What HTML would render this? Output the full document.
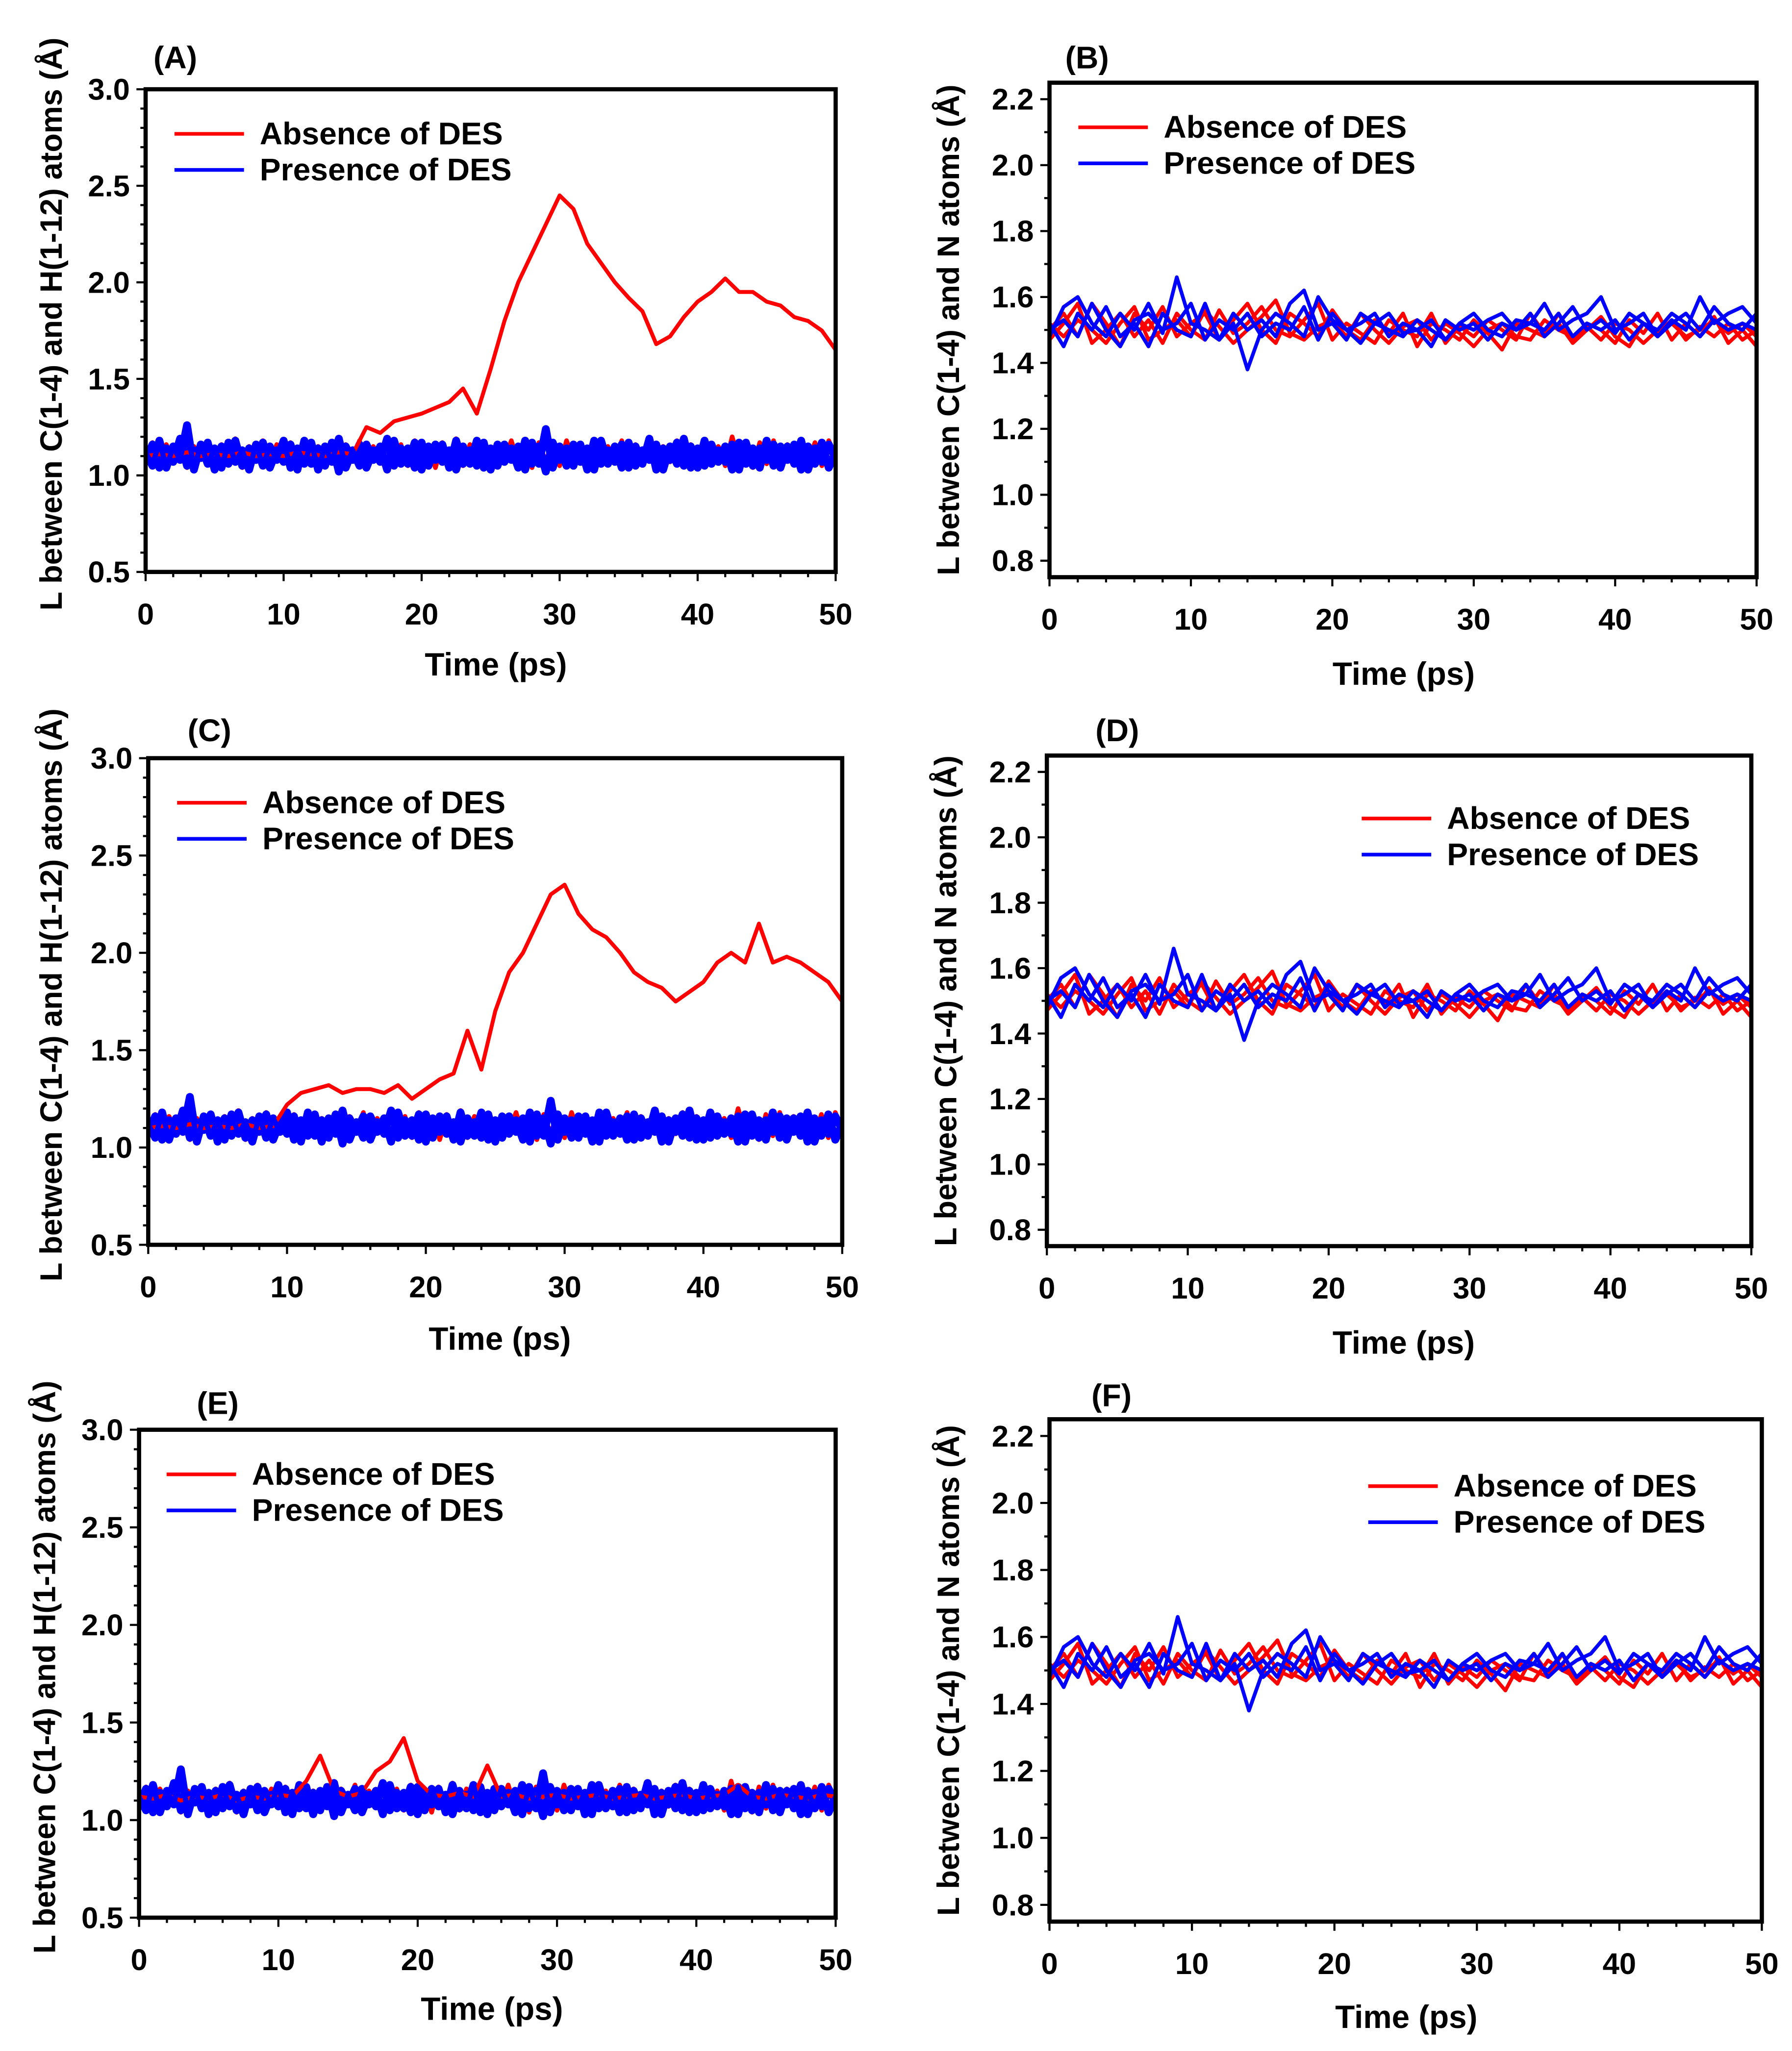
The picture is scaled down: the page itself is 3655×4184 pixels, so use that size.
<!DOCTYPE html>
<html><head><meta charset="utf-8"><style>
html,body{margin:0;padding:0;background:#fff;}
svg{display:block;}
text{font-family:"Liberation Sans",Arial,sans-serif;font-weight:bold;fill:#000;}
</style></head><body>
<svg id="fig" width="3655" height="4184" viewBox="0 0 1366 1563.6" xmlns="http://www.w3.org/2000/svg"></svg>
<script>
// ---- data (values per time step, time spans 0..50 ps evenly) ----
const timeTicks = [0,10,20,30,40,50];
const yTicksH = [0.5,1.0,1.5,2.0,2.5,3.0];
const yTicksN = [0.8,1.0,1.2,1.4,1.6,1.8,2.0,2.2];
const legendLabels = ["Absence of DES","Presence of DES"];
const panelLabels = ["(A)","(B)","(C)","(D)","(E)","(F)"];

const blueNoise = [1.12,1.05,1.18,1.04,1.15,1.08,1.26,1.03,1.16,1.06,1.14,1.04,1.17,1.07,1.13,1.03,1.16,1.05,1.15,1.08,1.18,1.04,1.14,1.06,1.17,1.03,1.15,1.07,1.19,1.04,1.13,1.05,1.16,1.08,1.15,1.03,1.18,1.06,1.14,1.04,1.17,1.05,1.16,1.07,1.13,1.03,1.15,1.06,1.18,1.04,1.14,1.05,1.16,1.08,1.15,1.03,1.17,1.06,1.24,1.04,1.15,1.05,1.16,1.07,1.14,1.03,1.18,1.06,1.15,1.04,1.17,1.05,1.13,1.08,1.16,1.03,1.15,1.06,1.19,1.04,1.14,1.05,1.16,1.07,1.15,1.03,1.17,1.06,1.14,1.04,1.18,1.05,1.15,1.08,1.16,1.03,1.15,1.06,1.17,1.04,1.12];
const blueNoise2 = [1.08,1.16,1.04,1.14,1.07,1.19,1.05,1.13,1.09,1.17,1.03,1.15,1.06,1.18,1.05,1.14,1.08,1.17,1.04,1.13,1.07,1.16,1.03,1.18,1.06,1.14,1.05,1.17,1.02,1.15,1.08,1.16,1.04,1.13,1.07,1.19,1.05,1.14,1.06,1.17,1.03,1.15,1.08,1.16,1.04,1.18,1.06,1.13,1.05,1.17,1.03,1.16,1.07,1.14,1.04,1.18,1.06,1.15,1.02,1.17,1.08,1.14,1.05,1.16,1.03,1.18,1.06,1.13,1.07,1.16,1.04,1.15,1.06,1.19,1.03,1.14,1.08,1.17,1.05,1.15,1.04,1.18,1.06,1.13,1.07,1.16,1.03,1.17,1.05,1.14,1.08,1.16,1.04,1.15,1.06,1.18,1.03,1.14,1.07,1.16,1.09];
const redNoise = [1.10,1.17,1.05,1.16,1.08,1.18,1.04,1.15,1.09,1.17,1.05,1.16,1.07,1.19,1.04,1.15,1.08,1.18,1.05,1.16,1.07,1.17,1.04,1.18,1.06,1.15,1.08,1.17,1.05,1.16,1.09,1.18,1.04,1.15,1.07,1.17,1.06,1.16,1.05,1.18,1.07,1.15,1.04,1.17,1.08,1.19,1.05,1.16,1.07,1.17,1.05,1.15,1.08,1.18,1.06,1.16,1.04,1.17,1.07,1.15,1.05,1.18,1.08,1.16,1.04,1.17,1.06,1.15,1.07,1.18,1.05,1.16,1.08,1.17,1.04,1.15,1.07,1.18,1.05,1.16,1.06,1.17,1.08,1.15,1.05,1.20,1.07,1.16,1.04,1.17,1.06,1.18,1.05,1.16,1.08,1.15,1.06,1.17,1.05,1.18,1.10];

const redA = [1.10,1.11,1.10,1.12,1.10,1.11,1.10,1.12,1.10,1.11,1.10,1.12,1.11,1.10,1.12,1.11,1.25,1.22,1.28,1.30,1.32,1.35,1.38,1.45,1.32,1.55,1.80,2.00,2.15,2.30,2.45,2.38,2.20,2.10,2.00,1.92,1.85,1.68,1.72,1.82,1.90,1.95,2.02,1.95,1.95,1.90,1.88,1.82,1.80,1.75,1.65];
const redC = [1.10,1.11,1.10,1.12,1.10,1.11,1.10,1.12,1.10,1.11,1.22,1.28,1.30,1.32,1.28,1.30,1.30,1.28,1.32,1.25,1.30,1.35,1.38,1.60,1.40,1.70,1.90,2.00,2.15,2.30,2.35,2.20,2.12,2.08,2.00,1.90,1.85,1.82,1.75,1.80,1.85,1.95,2.00,1.95,2.15,1.95,1.98,1.95,1.90,1.85,1.75];
const redE = [1.12,1.11,1.13,1.10,1.12,1.11,1.13,1.10,1.12,1.11,1.13,1.12,1.20,1.33,1.15,1.12,1.14,1.25,1.30,1.42,1.20,1.13,1.12,1.14,1.12,1.28,1.12,1.13,1.11,1.12,1.13,1.11,1.12,1.13,1.11,1.12,1.13,1.11,1.12,1.13,1.11,1.12,1.13,1.18,1.12,1.11,1.13,1.12,1.11,1.13,1.12];

const redN1 = [1.50,1.55,1.48,1.58,1.52,1.45,1.55,1.50,1.57,1.48,1.52,1.55,1.47,1.53,1.58,1.50,1.46,1.55,1.52,1.48,1.56,1.50,1.47,1.53,1.49,1.55,1.45,1.52,1.50,1.47,1.53,1.49,1.44,1.52,1.50,1.48,1.55,1.47,1.52,1.50,1.46,1.53,1.49,1.55,1.47,1.52,1.48,1.54,1.46,1.50,1.45];
const redN2 = [1.47,1.52,1.58,1.46,1.50,1.55,1.48,1.53,1.46,1.55,1.50,1.47,1.56,1.49,1.52,1.57,1.50,1.48,1.53,1.58,1.47,1.52,1.49,1.46,1.53,1.50,1.48,1.55,1.46,1.51,1.48,1.53,1.50,1.47,1.55,1.49,1.52,1.46,1.50,1.54,1.48,1.45,1.52,1.49,1.53,1.47,1.51,1.48,1.52,1.47,1.50];
const redN3 = [1.52,1.48,1.53,1.50,1.46,1.52,1.57,1.47,1.50,1.53,1.48,1.56,1.51,1.46,1.50,1.54,1.59,1.49,1.47,1.51,1.53,1.48,1.55,1.50,1.46,1.51,1.53,1.47,1.52,1.49,1.45,1.50,1.52,1.48,1.47,1.53,1.50,1.48,1.51,1.47,1.52,1.50,1.46,1.50,1.52,1.48,1.50,1.53,1.49,1.52,1.48];
const blueN1 = [1.48,1.57,1.60,1.52,1.48,1.55,1.50,1.58,1.49,1.66,1.52,1.50,1.47,1.55,1.50,1.53,1.48,1.58,1.62,1.50,1.52,1.47,1.55,1.52,1.50,1.48,1.53,1.50,1.47,1.52,1.50,1.53,1.55,1.50,1.52,1.58,1.50,1.53,1.55,1.60,1.50,1.52,1.55,1.48,1.53,1.50,1.60,1.52,1.55,1.57,1.52];
const blueN2 = [1.52,1.45,1.55,1.50,1.57,1.48,1.52,1.45,1.55,1.50,1.48,1.58,1.47,1.52,1.38,1.50,1.55,1.52,1.48,1.60,1.53,1.50,1.46,1.52,1.55,1.49,1.50,1.45,1.53,1.50,1.52,1.47,1.52,1.50,1.55,1.48,1.52,1.57,1.50,1.53,1.49,1.55,1.52,1.48,1.52,1.55,1.50,1.57,1.52,1.50,1.55];
const blueN3 = [1.50,1.53,1.48,1.58,1.50,1.45,1.53,1.55,1.50,1.52,1.58,1.47,1.53,1.50,1.55,1.48,1.52,1.50,1.57,1.47,1.55,1.50,1.52,1.55,1.48,1.52,1.50,1.53,1.47,1.52,1.55,1.50,1.48,1.53,1.52,1.50,1.55,1.48,1.52,1.50,1.53,1.47,1.52,1.50,1.55,1.52,1.48,1.53,1.50,1.52,1.50];

// ---- layout ----
const NS="http://www.w3.org/2000/svg";
const svg=document.getElementById('fig');
function mk(tag,attrs,parent){const e=document.createElementNS(NS,tag);for(const k in attrs)e.setAttribute(k,attrs[k]);(parent||svg).appendChild(e);return e;}
const RED='#ff0000', BLUE='#0000ff';

const panels=[
 {id:'a',x0:111,x1:637,y0:68,y1:436,ymin:0.5,ymax:3.0,ticks:yTicksH,type:'H',
  reds:[redNoise,redA],blues:[blueNoise,blueNoise2],lbl:[117,52],leg:[133,102],xt:[378,515],yt:38},
 {id:'b',x0:800,x1:1339,y0:63,y1:440,ymin:0.75,ymax:2.25,ticks:yTicksN,type:'N',
  reds:[redN1,redN2,redN3],blues:[blueN1,blueN2,blueN3],lbl:[812,52],leg:[822,97],xt:[1070,522],yt:722},
 {id:'c',x0:113,x1:642,y0:578,y1:949,ymin:0.5,ymax:3.0,ticks:yTicksH,type:'H',
  reds:[redNoise,redC],blues:[blueNoise,blueNoise2],lbl:[143,565],leg:[135,612],xt:[381,1029],yt:38},
 {id:'d',x0:798,x1:1335,y0:576,y1:950,ymin:0.75,ymax:2.25,ticks:yTicksN,type:'N',
  reds:[redN1,redN2,redN3],blues:[blueN1,blueN2,blueN3],lbl:[835,565],leg:[1038,624],xt:[1070,1032],yt:720},
 {id:'e',x0:106,x1:637,y0:1090,y1:1462,ymin:0.5,ymax:3.0,ticks:yTicksH,type:'H',
  reds:[redNoise,redE],blues:[blueNoise,blueNoise2],lbl:[150,1078],leg:[127,1124],xt:[375,1540],yt:33},
 {id:'f',x0:800,x1:1343,y0:1082,y1:1465,ymin:0.75,ymax:2.25,ticks:yTicksN,type:'N',
  reds:[redN1,redN2,redN3],blues:[blueN1,blueN2,blueN3],lbl:[832,1072],leg:[1043,1133],xt:[1072,1546],yt:722}
];

panels.forEach((p,pi)=>{
  const g=mk('g',{});
  
  
  const xs=t=>p.x0+(t/50)*(p.x1-p.x0);
  const ys=v=>p.y1-(v-p.ymin)/(p.ymax-p.ymin)*(p.y1-p.y0);
  const clipId='clip'+p.id;
  const cp=mk('clipPath',{id:clipId},g);
  mk('rect',{x:p.x0,y:p.y0,width:p.x1-p.x0,height:p.y1-p.y0},cp);
  function series(arr,color,name,w){
    const n=arr.length;
    const pts=arr.map((v,i)=>xs(i*50/(n-1)).toFixed(2)+','+ys(v).toFixed(2)).join(' ');
    const l=mk('polyline',{points:pts,fill:'none',stroke:color,'stroke-width':w,'stroke-linejoin':'round','clip-path':'url(#'+clipId+')'},g);
    
    
  }
  if(p.type==='H'){
    series(p.reds[0],RED,'red-noise-series',3.5);
    series(p.blues[0],BLUE,'blue-series',6);
    series(p.blues[1],BLUE,'blue-series-2',6);
    series(p.reds[1],RED,'red-series',3);
    series(p.blues[0],BLUE,'blue-series-overlay',4);
  } else {
    p.reds.forEach((a,i)=>series(a,RED,'red-series-'+(i+1),2.8));
    p.blues.forEach((a,i)=>series(a,BLUE,'blue-series-'+(i+1),2.8));
  }
  const fr=mk('rect',{x:p.x0,y:p.y0,width:p.x1-p.x0,height:p.y1-p.y0,fill:'none',stroke:'#000','stroke-width':3.2},g);
  
  
  for(let t=0;t<=50;t+=2){
    const major=t%10===0;
    mk('line',{x1:xs(t),x2:xs(t),y1:p.y1,y2:p.y1+(major?7:4),stroke:'#000','stroke-width':1.6},g);
  }
  timeTicks.forEach(t=>{
    const tx=mk('text',{x:xs(t),y:p.y1+40,'font-size':23,'text-anchor':'middle'},g);
    tx.textContent=t;
    
    
  });
  const steps=Math.round((p.ymax-p.ymin)/0.05);
  for(let k=0;k<=steps;k++){
    const v=p.ymin+k*0.05;
    if(Math.abs(v*10-Math.round(v*10))>1e-6) continue;
    const major=p.ticks.some(tv=>Math.abs(tv-v)<1e-6);
    mk('line',{x1:p.x0-(major?7:4),x2:p.x0,y1:ys(v),y2:ys(v),stroke:'#000','stroke-width':1.6},g);
  }
  p.ticks.forEach(v=>{
    const tx=mk('text',{x:p.x0-12,y:ys(v)+8,'font-size':23,'text-anchor':'end'},g);
    tx.textContent=v.toFixed(1);
    
    
  });
  const xt=mk('text',{x:p.xt[0],y:p.xt[1],'font-size':24.5,'text-anchor':'middle'},g);
  xt.textContent='Time (ps)';
  
  
  const yc=(p.y0+p.y1)/2+(p.type==='H'?-5:0);
  const yt=mk('text',{x:0,y:0,'font-size':23.5,'text-anchor':'middle',transform:'translate('+(p.yt+9)+','+yc+') rotate(-90)'},g);
  yt.textContent=p.type==='H'?'L between C(1-4) and H(1-12) atoms (Å)':'L between C(1-4) and N atoms (Å)';
  
  
  const pl=mk('text',{x:p.lbl[0],y:p.lbl[1],'font-size':24},g);
  pl.textContent=panelLabels[pi];
  
  
  legendLabels.forEach((lab,i)=>{
    const ly=p.leg[1]+i*27.5;
    const col=i===0?RED:BLUE;
    const ln=mk('line',{x1:p.leg[0],x2:p.leg[0]+53,y1:ly,y2:ly,stroke:col,'stroke-width':2.8},g);
    
    
    const tx=mk('text',{x:p.leg[0]+65,y:ly+8,'font-size':24},g);
    tx.textContent=lab;
    
    
  });
});
</script>
</body></html>
